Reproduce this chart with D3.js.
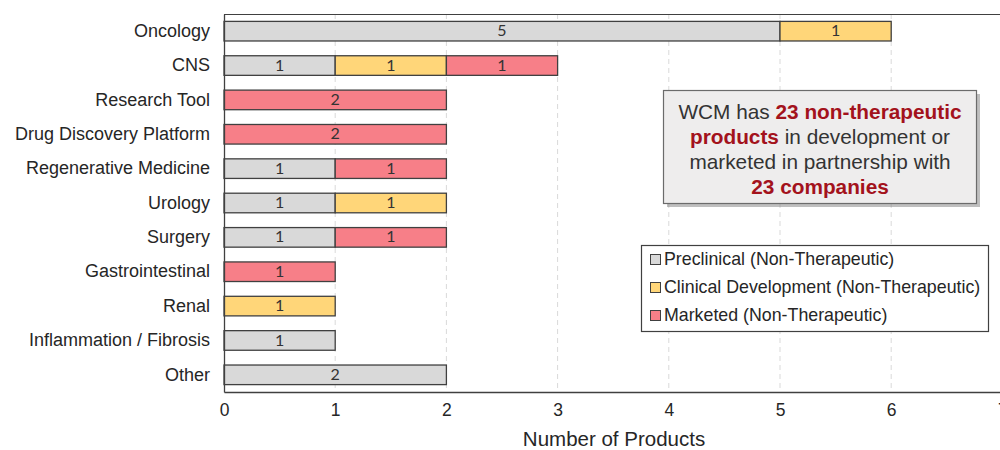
<!DOCTYPE html>
<html><head><meta charset="utf-8">
<script src="https://cdn.jsdelivr.net/npm/d3@7"></script>
<style>body{margin:0;background:#fff;overflow:hidden}svg{display:block}</style>
</head><body><svg id="c" width="1000" height="450"></svg>
<script>
const categories = ["Oncology","CNS","Research Tool","Drug Discovery Platform","Regenerative Medicine","Urology","Surgery","Gastrointestinal","Renal","Inflammation / Fibrosis","Other"];
const preclinical = [5,1,0,0,1,1,1,0,0,1,2];
const clinical    = [1,1,0,0,0,1,0,0,1,0,0];
const marketed    = [0,1,2,2,1,0,1,1,0,0,0];
const seriesNames = ["Preclinical (Non-Therapeutic)","Clinical Development (Non-Therapeutic)","Marketed (Non-Therapeutic)"];
const seriesColors = ["#d9d9d9","#ffd679","#f77f88"];
const xTicks = [0,1,2,3,4,5,6,7];

const svg = d3.select("#c");
const m = {l:224, t:14, b:58};
const W = 1000, H = 450;
const x = d3.scaleLinear().domain([0,7]).range([m.l, m.l + 7*111.2]);
const y = d3.scaleBand().domain(categories).range([m.t, H - m.b]).paddingInner(0.43).paddingOuter(0.215);

// gridlines
svg.append("g").selectAll("line").data(xTicks.slice(1)).join("line")
  .attr("x1", d=>x(d)).attr("x2", d=>x(d)).attr("y1", m.t).attr("y2", H-m.b)
  .attr("stroke","#d9d9d9").attr("stroke-dasharray","5,4").attr("stroke-width",1);

// plot border top
svg.append("line").attr("x1",m.l).attr("x2",1000).attr("y1",m.t+0.5).attr("y2",m.t+0.5).attr("stroke","#404040").attr("stroke-width",1);

const rows = categories.map((c,i)=>({c, vals:[preclinical[i],clinical[i],marketed[i]]}));
const segs = [];
rows.forEach(r=>{let acc=0; r.vals.forEach((v,k)=>{ if(v>0){segs.push({c:r.c,x0:acc,x1:acc+v,v,k});} acc+=v;});});

const g = svg.append("g");
g.selectAll("rect").data(segs).join("rect")
  .attr("x", d=>x(d.x0)).attr("width", d=>x(d.x1)-x(d.x0))
  .attr("y", d=>y(d.c)).attr("height", y.bandwidth())
  .attr("fill", d=>seriesColors[d.k]).attr("stroke","#404040").attr("stroke-width",1.3);
g.selectAll("text").data(segs).join("text")
  .attr("x", d=>(x(d.x0)+x(d.x1))/2).attr("y", d=>y(d.c)+y.bandwidth()/2+1)
  .attr("text-anchor","middle").attr("dominant-baseline","middle")
  .attr("font-family","Lato, 'Open Sans', sans-serif").attr("font-size",16).attr("fill","#333")
  .text(d=>d.v);

// axes
const yAxis = svg.append("g").attr("transform",`translate(${m.l},0)`).call(d3.axisLeft(y).tickSize(0).tickPadding(14));
yAxis.select(".domain").attr("stroke","#404040").attr("stroke-width",1.3);
yAxis.selectAll("text").attr("font-family","Liberation Sans, Arial, sans-serif").attr("font-size",18).attr("fill","#262626");

const xAxis = svg.append("g").attr("transform",`translate(0,${H-m.b})`).call(d3.axisBottom(x).tickValues(xTicks).tickSize(0).tickPadding(12).tickFormat(d3.format("d")));
xAxis.select(".domain").attr("stroke","#404040").attr("stroke-width",1.5);
xAxis.selectAll("text").attr("font-family","Liberation Sans Narrow, Arial Narrow, Liberation Sans, sans-serif").attr("font-size",17.5).attr("fill","#262626");

svg.append("text").attr("x", 614).attr("y", 446).attr("text-anchor","middle")
  .attr("font-family","Liberation Sans, sans-serif").attr("font-size",20.5).attr("fill","#262626")
  .text("Number of Products");

// annotation box
svg.append("rect").attr("x",667).attr("y",94).attr("width",313).attr("height",113).attr("fill","#7f7f7f").attr("opacity",0.5);
svg.append("rect").attr("x",663.5).attr("y",90.5).attr("width",313).attr("height",113).attr("fill","#eeeded").attr("stroke","#6b6b6b").attr("stroke-width",1.2);
const ann = svg.append("text").attr("text-anchor","middle").attr("font-family","Liberation Sans, Arial, sans-serif").attr("font-size",20.8).attr("fill","#333");
const red = "#a3121c";
const lines = [
  [["WCM has ",false],["23 non-therapeutic",true]],
  [["products",true],[" in development or",false]],
  [["marketed in partnership with",false]],
  [["23 companies",true]]
];
lines.forEach((ln,i)=>{
  const t = ann.append("tspan").attr("x",820).attr("y",118.5+i*25.2);
  ln.forEach(([s,b],j)=>{
    const sp = j===0 ? t : ann.append("tspan");
    sp.text(s); if(b){sp.attr("font-weight","bold").attr("fill",red);}
  });
});

// legend
const lg = svg.append("g");
lg.append("rect").attr("x",641.5).attr("y",245.5).attr("width",347).attr("height",86).attr("fill","#fff").attr("stroke","#404040").attr("stroke-width",1.2);
seriesNames.forEach((n,i)=>{
  const yy = 260 + i*28;
  lg.append("rect").attr("x",650.5).attr("y",yy-5.5).attr("width",10).attr("height",10).attr("fill",seriesColors[i]).attr("stroke","#404040").attr("stroke-width",1);
  lg.append("text").attr("x",664).attr("y",yy).attr("dominant-baseline","middle")
    .attr("font-family","Liberation Sans, Arial, sans-serif").attr("font-size",17.8).attr("fill","#262626").text(n);
});
</script></body></html>
